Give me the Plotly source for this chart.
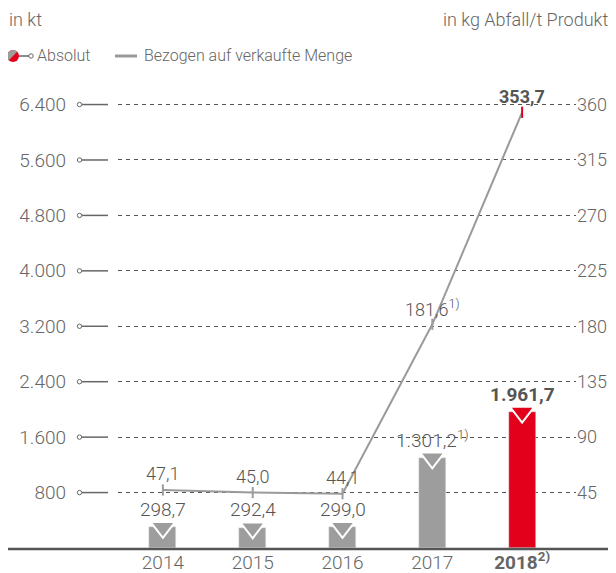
import math
import plotly.graph_objects as go

years = ["2014", "2015", "2016", "2017", "2018"]
year_labels = ["2014", "2015", "2016", "2017", "<b>2018<sup>2)</sup></b>"]
absolut_kt = [298.7, 292.4, 299.0, 1301.2, 1961.7]
absolut_text = ["298,7", "292,4", "299,0", "1.301,2<sup>1)</sup>", "<b>1.961,7</b>"]
bezogen = [47.1, 45.0, 44.1, 181.6, 353.7]
bezogen_text = ["47,1", "45,0", "44,1", "181,6<sup>1)</sup>", "<b>353,7</b>"]
left_ticks = [800, 1600, 2400, 3200, 4000, 4800, 5600, 6400]
left_ticktext = ["800", "1.600", "2.400", "3.200", "4.000", "4.800", "5.600", "6.400"]
right_ticks = [45, 90, 135, 180, 225, 270, 315, 360]

GREY = "#9d9d9d"
RED = "#e2001a"
TXT = "#666666"
DARK = "#555555"
bar_colors = [GREY, GREY, GREY, GREY, RED]
FONT = "Roboto"

# page has an 8px body margin, so lay out in page pixels and shift
OFF = 8
W, H = 616 - OFF, 573 - OFF
PL, PR, PT, PB = 118, 576, 90, 548          # plot box in page pixels
L, R, T, B = PL - OFF, W - (PR - OFF), PT - OFF, H - (PB - OFF)
PW, PH = PR - PL, PB - PT
ymax = 6610
y2max = ymax * 360 / 6400


def px(x):
    return (x - PL) / PW


def py(y):
    return (PB - y) / PH


fig = go.Figure()
fig.add_trace(go.Bar(x=years, y=absolut_kt, marker_color=bar_colors, width=0.3,
                     showlegend=False, hoverinfo="skip"))
fig.add_trace(go.Scatter(x=years, y=absolut_kt, mode="markers", showlegend=False,
                         marker=dict(symbol="triangle-down", size=21, color=bar_colors,
                                     line=dict(color="white", width=2)),
                         cliponaxis=False, hoverinfo="skip"))
fig.add_trace(go.Scatter(x=years, y=bezogen, yaxis="y2", mode="lines+markers", showlegend=False,
                         line=dict(color="#9a9a9a", width=2),
                         marker=dict(symbol="line-ns", size=8,
                                     line=dict(color=bar_colors, width=2)),
                         cliponaxis=False, hoverinfo="skip"))

for i, (y, t) in enumerate(zip(absolut_kt, absolut_text)):
    fig.add_annotation(x=i, y=y, text=t, showarrow=False, yshift=18, yanchor="middle",
                       font=dict(size=19, color=DARK, family=FONT))
for i, (y, t) in enumerate(zip(bezogen, bezogen_text)):
    fig.add_annotation(x=i, y=y, yref="y2", text=t, showarrow=False, yshift=16, yanchor="middle",
                       font=dict(size=18, color=DARK, family=FONT))

# left tick decorations: small open circle + solid stub
for v in left_ticks:
    fig.add_shape(type="line", xref="paper", yref="y", x0=px(82), x1=px(108), y0=v, y1=v,
                  line=dict(color="#666", width=1.5))
    fig.add_shape(type="circle", xref="paper", yref="y", xsizemode="pixel", ysizemode="pixel",
                  xanchor=px(79.5), yanchor=v, x0=-2.2, x1=2.2, y0=-2.2, y1=2.2,
                  line=dict(color="#666", width=1), fillcolor="white")

# baseline
fig.add_shape(type="line", xref="paper", yref="paper", x0=px(5), x1=px(620), y0=py(549), y1=py(549),
              line=dict(color="#555", width=2.5))

# legend
ly = py(56)
fig.add_shape(type="circle", xref="paper", yref="paper", xsizemode="pixel", ysizemode="pixel",
              xanchor=px(13), yanchor=ly, x0=-6, x1=6, y0=-6, y1=6,
              fillcolor=RED, line=dict(width=0))
pts = [(5.9 * math.cos(math.radians(a)), 5.9 * math.sin(math.radians(a))) for a in range(45, 226, 10)]
path = "M " + " L ".join(f"{x:.2f},{y:.2f}" for x, y in pts) + " Z"
fig.add_shape(type="path", xref="paper", yref="paper", xsizemode="pixel", ysizemode="pixel",
              xanchor=px(13), yanchor=ly, path=path, fillcolor=GREY, line=dict(width=0))
fig.add_shape(type="line", xref="paper", yref="paper", x0=px(19), x1=px(29), y0=ly, y1=ly,
              line=dict(color="#666", width=1.5))
fig.add_shape(type="circle", xref="paper", yref="paper", xsizemode="pixel", ysizemode="pixel",
              xanchor=px(31), yanchor=ly, x0=-2.2, x1=2.2, y0=-2.2, y1=2.2,
              line=dict(color="#666", width=1), fillcolor="white")
fig.add_annotation(xref="paper", yref="paper", x=px(35), y=ly, text="Absolut", showarrow=False,
                   xanchor="left", yanchor="middle", font=dict(size=16, color=TXT, family=FONT))
fig.add_shape(type="line", xref="paper", yref="paper", x0=px(115), x1=px(137), y0=ly, y1=ly,
              line=dict(color="#9a9a9a", width=3))
fig.add_annotation(xref="paper", yref="paper", x=px(142), y=ly, text="Bezogen auf verkaufte Menge",
                   showarrow=False, xanchor="left", yanchor="middle",
                   font=dict(size=16, color=TXT, family=FONT))

fig.add_annotation(xref="paper", yref="paper", x=px(7), y=py(20), text="in kt", showarrow=False,
                   xanchor="left", yanchor="middle", font=dict(size=18, color=TXT, family=FONT))
fig.add_annotation(xref="paper", yref="paper", x=px(610), y=py(20), text="in kg Abfall/t Produkt",
                   showarrow=False, xanchor="right", yanchor="middle",
                   font=dict(size=18, color=TXT, family=FONT))

fig.update_layout(
    width=W, height=H, margin=dict(l=L, r=R, t=T, b=B, autoexpand=False),
    plot_bgcolor="white", paper_bgcolor="white",
    font=dict(family=FONT, size=17, color=TXT, weight=300),
    bargap=0,
    xaxis=dict(type="category", range=[-0.5, 4.6], tickvals=years, ticktext=year_labels,
               showgrid=False, zeroline=False, showline=False, ticks="", automargin=False,
               ticklabelstandoff=1, tickfont=dict(size=19, color=TXT, weight=300)),
    yaxis=dict(range=[0, ymax], tickvals=left_ticks, ticktext=left_ticktext,
               showgrid=True, gridcolor="#555", griddash="4px,4px", gridwidth=1,
               zeroline=False, showline=False, ticks="", ticklabelstandoff=51, automargin=False,
               tickfont=dict(size=19, color=TXT, weight=300)),
    yaxis2=dict(range=[0, y2max], overlaying="y", side="right", tickvals=right_ticks,
                showgrid=False, zeroline=False, showline=False, ticks="", automargin=False,
                tickfont=dict(size=18, color=TXT, weight=300)),
)

fig.write_html("out.html")
